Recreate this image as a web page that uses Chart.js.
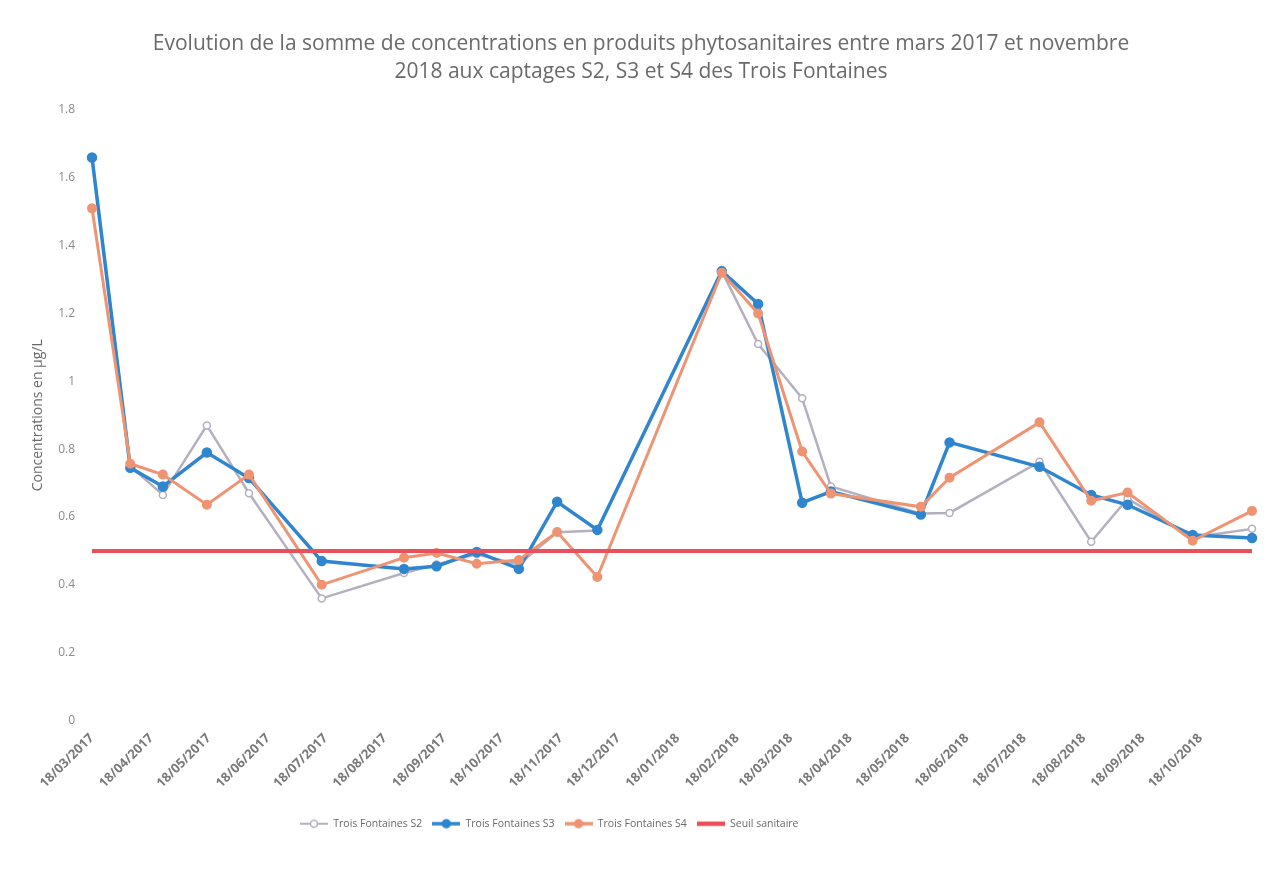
<!DOCTYPE html>
<html>
<head>
<meta charset="utf-8">
<script src="https://cdn.jsdelivr.net/npm/chart.js@4/dist/chart.umd.min.js"></script>
<style>
  html, body { margin: 0; padding: 0; background: #ffffff; }
  #wrap { width: 1284px; height: 884px; }
</style>
</head>
<body>
<div id="wrap"><canvas id="concChart" width="1284" height="884"></canvas></div>
<script>
// sampling dates
const dates = ['2017-03-18', '2017-04-07', '2017-04-24', '2017-05-17', '2017-06-08', '2017-07-16',
    '2017-08-28', '2017-09-14', '2017-10-05', '2017-10-27', '2017-11-16', '2017-12-07',
    '2018-02-10', '2018-03-01', '2018-03-24', '2018-04-08', '2018-05-25', '2018-06-09',
    '2018-07-26', '2018-08-22', '2018-09-10', '2018-10-14', '2018-11-14'];

const s2 = [1.66, 0.75, 0.665, 0.87, 0.67, 0.36, 0.435, 0.46, 0.49, 0.46, 0.555, 0.56,
    1.325, 1.11, 0.95, 0.69, 0.61, 0.612, 0.763, 0.527, 0.654, 0.54, 0.565];
const s3 = [1.66, 0.745, 0.69, 0.79, 0.715, 0.47, 0.447, 0.455, 0.497, 0.447, 0.645, 0.562,
    1.325, 1.228, 0.642, 0.675, 0.607, 0.82, 0.748, 0.665, 0.636, 0.547, 0.538];
const s4 = [1.51, 0.757, 0.725, 0.636, 0.725, 0.40, 0.48, 0.494, 0.462, 0.473, 0.556, 0.423,
    1.32, 1.20, 0.793, 0.669, 0.63, 0.716, 0.879, 0.648, 0.672, 0.53, 0.618];
const seuil = 0.5;

const xTickLabels = ['18/03/2017', '18/04/2017', '18/05/2017', '18/06/2017', '18/07/2017',
    '18/08/2017', '18/09/2017', '18/10/2017', '18/11/2017', '18/12/2017', '18/01/2018',
    '18/02/2018', '18/03/2018', '18/04/2018', '18/05/2018', '18/06/2018', '18/07/2018',
    '18/08/2018', '18/09/2018', '18/10/2018'];

const seriesNames = ['Trois Fontaines S2', 'Trois Fontaines S3', 'Trois Fontaines S4', 'Seuil sanitaire'];

function toTime(iso) {
    return Date.parse(iso + 'T00:00:00Z');
}
function labelToTime(lbl) {
    const p = lbl.split('/');
    return Date.UTC(+p[2], +p[1] - 1, +p[0]);
}

const xs = dates.map(toTime);
const tickValues = xTickLabels.map(labelToTime);

function points(values) {
    return values.map((v, i) => ({ x: xs[i], y: v }));
}

// little line + marker pictures for the legend
function legendIcon(color, lineW, radius, fill) {
    const c = document.createElement('canvas');
    c.width = 28; c.height = 12;
    const g = c.getContext('2d');
    g.strokeStyle = color;
    g.lineWidth = lineW;
    g.beginPath(); g.moveTo(0, 6); g.lineTo(28, 6); g.stroke();
    if (radius > 0) {
        g.beginPath(); g.arc(14, 6, radius, 0, Math.PI * 2);
        g.fillStyle = fill;
        g.fill();
        g.lineWidth = 1.5;
        g.stroke();
    }
    return c;
}

const colS2 = '#b4b0bf';
const colS3 = '#2f86cf';
const colS4 = '#ee9473';
const colSeuil = '#e8505b';

const icons = [
    legendIcon(colS2, 2, 3.5, '#ffffff'),
    legendIcon(colS3, 3.5, 4, colS3),
    legendIcon(colS4, 3.5, 4, colS4),
    legendIcon(colSeuil, 4.5, 0, colSeuil)
];

const legendShift = {
    id: 'legendShift',
    afterLayout(chart) {
        chart.legend.left = 290;
    }
};

const ctx = document.getElementById('concChart').getContext('2d');

const chart = new Chart(ctx, {
    type: 'line',
    data: {
        datasets: [{
            label: seriesNames[0],
            data: points(s2),
            borderColor: colS2,
            backgroundColor: '#ffffff',
            borderWidth: 2.5,
            pointRadius: 3.5,
            pointBorderColor: colS2,
            pointBackgroundColor: '#ffffff',
            pointBorderWidth: 1.5,
            tension: 0,
            clip: false,
            order: 3
        }, {
            label: seriesNames[1],
            data: points(s3),
            borderColor: colS3,
            backgroundColor: colS3,
            borderWidth: 3.5,
            pointRadius: 3.5,
            pointBackgroundColor: colS3,
            pointBorderColor: colS3,
            tension: 0,
            clip: false,
            order: 2
        }, {
            label: seriesNames[2],
            data: points(s4),
            borderColor: colS4,
            backgroundColor: colS4,
            borderWidth: 3,
            pointRadius: 3.5,
            pointBackgroundColor: colS4,
            pointBorderColor: colS4,
            tension: 0,
            clip: false,
            order: 1
        }, {
            label: seriesNames[3],
            data: xs.map(x => ({ x: x, y: seuil })),
            borderColor: colSeuil,
            backgroundColor: colSeuil,
            borderWidth: 4,
            pointRadius: 0,
            tension: 0,
            clip: false,
            order: 0
        }]
    },
    options: {
        responsive: false,
        animation: false,
        layout: {
            padding: { left: 30, right: 32, top: 0, bottom: 45 }
        },
        plugins: {
            title: {
                display: true,
                text: ['Evolution de la somme de concentrations en produits phytosanitaires entre mars 2017 et novembre',
                    '2018 aux captages S2, S3 et S4 des Trois Fontaines'],
                color: '#6a6a6a',
                font: { family: 'Open Sans', size: 21, weight: 'normal', lineHeight: 1.333 },
                padding: { top: 30, bottom: 24 }
            },
            legend: {
                position: 'bottom',
                align: 'start',
                labels: {
                    usePointStyle: true,
                    pointStyleWidth: 28,
                    color: '#6a6a6a',
                    padding: 10,
                    font: { family: 'Open Sans', size: 10.5 },
                    generateLabels(chart) {
                        const items = Chart.defaults.plugins.legend.labels.generateLabels(chart);
                        items.forEach(it => { it.pointStyle = icons[it.datasetIndex]; });
                        return items;
                    },
                    sort: (a, b) => a.datasetIndex - b.datasetIndex
                }
            },
            tooltip: { enabled: false }
        },
        scales: {
            x: {
                type: 'linear',
                min: xs[0],
                max: xs[xs.length - 1],
                grid: { display: false },
                border: { display: false },
                afterBuildTicks(scale) {
                    scale.ticks = tickValues.map(v => ({ value: v }));
                },
                afterFit(scale) {
                    scale.height = 88;
                },
                ticks: {
                    autoSkip: false,
                    minRotation: 45,
                    maxRotation: 45,
                    color: '#7a7a7a',
                    font: { family: 'Open Sans', size: 13, weight: 'bold' },
                    padding: 2,
                    callback: (value, index) => xTickLabels[index]
                }
            },
            y: {
                min: 0,
                max: 1.8,
                grid: { display: false },
                border: { display: false },
                afterFit(scale) {
                    scale.width = 62;
                },
                ticks: {
                    stepSize: 0.2,
                    color: '#8a8a8a',
                    font: { family: 'Open Sans', size: 12 },
                    padding: 9,
                    callback: v => String(Number(v.toFixed(1)))
                },
                title: {
                    display: true,
                    text: 'Concentrations en µg/L',
                    color: '#6a6a6a',
                    font: { family: 'Open Sans', size: 14 },
                    padding: { top: 0, bottom: 0 }
                }
            }
        }
    },
    plugins: [legendShift]
});
</script>
</body>
</html>
